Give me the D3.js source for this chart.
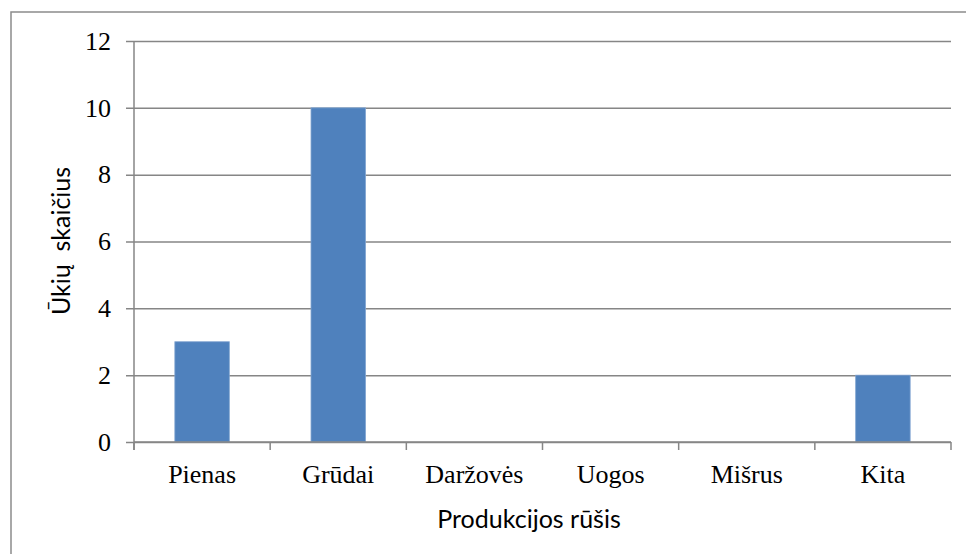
<!DOCTYPE html>
<html>
<head>
<meta charset="utf-8">
<script src="https://cdn.jsdelivr.net/npm/d3@7"></script>
<style>
  body { margin: 0; background: #fff; }
  text { white-space: pre; }
</style>
</head>
<body>
<div id="chart-area"></div>
<script>
// data
const categories = ["Pienas", "Grūdai", "Daržovės", "Uogos", "Mišrus", "Kita"]
const values = [3, 10, 0, 0, 0, 2]
const yTicks = [0, 2, 4, 6, 8, 10, 12]

const MARGIN = { LEFT: 134, RIGHT: 15, TOP: 41, BOTTOM: 112 }
const W = 966, H = 554
const WIDTH = W - MARGIN.LEFT - MARGIN.RIGHT
const HEIGHT = H - MARGIN.TOP - MARGIN.BOTTOM
const GRID = "#868686"

const svg = d3.select("#chart-area").append("svg")
  .attr("width", W)
  .attr("height", H)

// outer frame (runs off right / bottom edge)
svg.append("rect")
  .attr("x", 11).attr("y", 12)
  .attr("width", W).attr("height", H)
  .attr("fill", "none")
  .attr("stroke", "#8c8c8c")
  .attr("stroke-width", 1.5)

const g = svg.append("g")
  .attr("transform", `translate(${MARGIN.LEFT}, ${MARGIN.TOP})`)

const x = d3.scaleBand()
  .domain(categories)
  .range([0, WIDTH])

const xBar = d3.scaleBand()
  .domain(categories)
  .range([0, WIDTH])
  .paddingInner(0.6)
  .paddingOuter(0.3)

const y = d3.scaleLinear()
  .domain([0, 12])
  .range([HEIGHT, 0])

// Y axis with gridlines
const yAxisCall = d3.axisLeft(y)
  .tickValues(yTicks)
  .tickSize(-WIDTH)
  .tickPadding(23)
const yAxisGroup = g.append("g").call(yAxisCall)
yAxisGroup.select(".domain").remove()
yAxisGroup.selectAll(".tick line")
  .attr("x1", -8)
  .attr("stroke", GRID)
  .attr("stroke-width", 1.5)
yAxisGroup.selectAll(".tick text")
  .attr("font-family", "Liberation Serif")
  .attr("font-size", "26px")
  .attr("fill", "#000")

// vertical axis line
g.append("line")
  .attr("x1", 0).attr("x2", 0)
  .attr("y1", 0).attr("y2", HEIGHT + 8)
  .attr("stroke", GRID)
  .attr("stroke-width", 1.5)

// bars
g.selectAll("rect.bar")
  .data(values)
  .enter().append("rect")
  .attr("class", "bar")
  .attr("x", (d, i) => xBar(categories[i]))
  .attr("width", xBar.bandwidth())
  .attr("y", d => y(d))
  .attr("height", d => HEIGHT - y(d))
  .attr("fill", "#4F81BD")
  .attr("stroke", "#7fa3d0")
  .attr("stroke-width", 0.8)

// X axis
const xAxisGroup = g.append("g")
  .attr("transform", `translate(0,${HEIGHT})`)
g.append("line")
  .attr("x1", 0).attr("x2", WIDTH)
  .attr("y1", HEIGHT).attr("y2", HEIGHT)
  .attr("stroke", GRID)
  .attr("stroke-width", 1.5)
const boundaries = categories.map(c => x(c)).concat([WIDTH])
xAxisGroup.selectAll("line.tk")
  .data(boundaries)
  .enter().append("line")
  .attr("class", "tk")
  .attr("x1", d => d).attr("x2", d => d)
  .attr("y1", 0).attr("y2", 8)
  .attr("stroke", GRID)
  .attr("stroke-width", 1.5)
xAxisGroup.selectAll("text.cat")
  .data(categories)
  .enter().append("text")
  .attr("class", "cat")
  .attr("x", d => x(d) + x.bandwidth() / 2)
  .attr("y", 41)
  .attr("text-anchor", "middle")
  .attr("font-family", "Liberation Serif")
  .attr("font-size", "26px")
  .text(d => d)

// X label
svg.append("text")
  .attr("x", 529)
  .attr("y", 528)
  .attr("text-anchor", "middle")
  .attr("font-family", "Lato")
  .attr("font-size", "25px")
  .text("Produkcijos rūšis")

// Y label
svg.append("text")
  .attr("transform", "translate(70,241) rotate(-90)")
  .attr("text-anchor", "middle")
  .attr("font-family", "Lato")
  .attr("font-size", "25px")
  .text("Ūkių  skaičius")
</script>
</body>
</html>
